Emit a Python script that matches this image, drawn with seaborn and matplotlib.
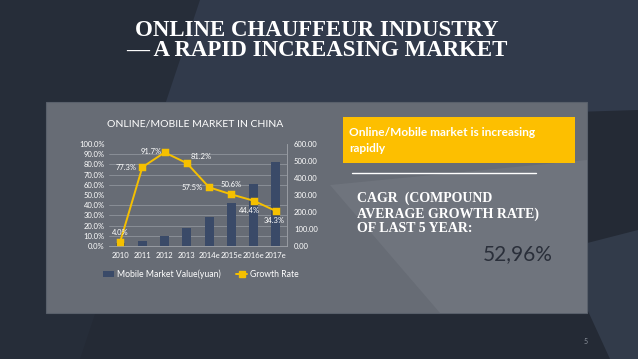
import matplotlib
matplotlib.use("Agg")
import matplotlib.pyplot as plt
import seaborn as sns
import numpy as np
from matplotlib.patches import Rectangle, Polygon, Patch
from matplotlib.lines import Line2D
from matplotlib.ticker import MultipleLocator, FuncFormatter

sns.set_theme(style="white")
plt.rcParams['font.family'] = ['Lato', 'DejaVu Sans']

# data
years = ['2010', '2011', '2012', '2013', '2014e', '2015e', '2016e', '2017e']
market_value = [17, 30, 58, 106, 168, 255, 365, 495]
growth_rate = [4.0, 77.3, 91.7, 81.2, 57.5, 50.6, 44.4, 34.3]
growth_labels = ['4.0%', '77.3%', '91.7%', '81.2%', '57.5%', '50.6%', '44.4%', '34.3%']
# label offsets in points (dx, dy) so the labels sit like the original
label_offsets = [(0, 7), (-12, 0), (-10, 1), (10, 5), (-12, 0), (0, 7), (-3, -7), (-1, -7)]

BAR_COLOR = '#3a4a68'
LINE_COLOR = '#f5c000'
W, H = 638, 359

def fx(px):
    return px / W

def fy(py):
    return 1 - py / H

fig = plt.figure(figsize=(6.38, 3.59), dpi=100)
fig.patch.set_facecolor('#242a35')

# slide background shapes
bg_shapes = [
    ([(0, 0), (638, 0), (638, 110), (0, 130)], '#313a4b'),
    ([(0, 0), (200, 0), (80, 359), (0, 359)], '#262d39'),
    ([(560, 250), (638, 230), (638, 359), (610, 359)], '#323b4a'),
]
for pts, col in bg_shapes:
    fig.patches.append(Polygon([(fx(x), fy(y)) for x, y in pts], closed=True,
                               transform=fig.transFigure, facecolor=col,
                               edgecolor='none', zorder=-5))

# grey panel
fig.patches.append(Rectangle((fx(46), fy(313)), fx(587) - fx(46), fy(102) - fy(313),
                             transform=fig.transFigure, facecolor='#676c75',
                             edgecolor='#59606b', lw=0.8, zorder=-3))
fig.patches.append(Polygon([(fx(x), fy(y)) for x, y in
                            [(330, 185), (587, 160), (587, 313), (440, 313)]],
                           closed=True, transform=fig.transFigure,
                           facecolor='#6f747d', edgecolor='none', zorder=-2))

# title
fig.text(0.497, fy(31), 'ONLINE CHAUFFEUR INDUSTRY', ha='center', va='center',
         color='white', fontsize=16.5, fontweight='bold', family='Liberation Serif')
fig.text(0.497, fy(51), '\u2014 A RAPID INCREASING MARKET', ha='center', va='center',
         color='white', fontsize=16.5, fontweight='bold', family='Liberation Serif')

# chart: bars on the right-hand axis, growth line on the left-hand axis
ax = fig.add_axes([fx(109), fy(246), fx(287) - fx(109), fy(144) - fy(246)])
ax.set_facecolor('none')
sns.barplot(x=years, y=market_value, color=BAR_COLOR, saturation=1, width=0.4,
            edgecolor='none', linewidth=0, ax=ax)
ax.set_xlabel('')
ax.set_ylabel('')

ax2 = ax.twinx()
sns.pointplot(x=years, y=growth_rate, ax=ax2, color=LINE_COLOR, markers='s',
              linestyles='-', linewidth=1.4, markersize=5)

ax.set_ylim(0, 600)
ax.yaxis.tick_right()
ax.yaxis.set_major_locator(MultipleLocator(100))
ax.yaxis.set_major_formatter(FuncFormatter(lambda v, p: f'{v:.2f}'))
ax.yaxis.set_minor_locator(MultipleLocator(60))
ax.grid(which='minor', axis='y', color='#8f949c', lw=0.6)
ax.set_axisbelow(True)
ax.tick_params(axis='y', which='both', length=0, labelsize=5.5, labelcolor='white', pad=5,
               labelleft=False, labelright=True)
ax.tick_params(axis='x', length=0, labelsize=5.5, labelcolor='white', pad=4)
for s in ['top', 'left']:
    ax.spines[s].set_visible(False)
ax.spines['bottom'].set_color('#a0a4aa')
ax.spines['right'].set_color('#a0a4aa')
ax.spines['bottom'].set_linewidth(0.6)
ax.spines['right'].set_linewidth(0.6)

ax2.set_ylim(0, 100)
ax2.yaxis.tick_left()
ax2.yaxis.set_major_locator(MultipleLocator(10))
ax2.yaxis.set_major_formatter(FuncFormatter(lambda v, p: f'{v:.1f}%'))
ax2.tick_params(axis='y', length=0, labelsize=5.5, labelcolor='white', pad=3,
                labelleft=True, labelright=False)
for s in ['top', 'left', 'right', 'bottom']:
    ax2.spines[s].set_visible(False)
ax2.set_xlabel('')
ax2.set_ylabel('')
ax2.tick_params(axis='x', length=0, labelbottom=False)

for i, (v, lab, off) in enumerate(zip(growth_rate, growth_labels, label_offsets)):
    ax2.annotate(lab, (i, v), xytext=off, textcoords='offset points',
                 ha='center', va='center', fontsize=5.5, color='white')

fig.text(fx(195), fy(124), 'ONLINE/MOBILE MARKET IN CHINA', ha='center', va='center',
         color='white', fontsize=7.5)

handles = [Patch(facecolor=BAR_COLOR, edgecolor='none'),
           Line2D([], [], color=LINE_COLOR, marker='s', markersize=4, lw=1.4)]
leg = fig.legend(handles, ['Mobile Market Value(yuan)', 'Growth Rate'],
                 loc='center', bbox_to_anchor=(fx(201), fy(274)), ncol=2, frameon=False,
                 fontsize=6.2, handlelength=1.3, handletextpad=0.3, columnspacing=1.8)
for t in leg.get_texts():
    t.set_color('white')

# right side
fig.patches.append(Rectangle((fx(343), fy(163)), fx(575) - fx(343), fy(117) - fy(163),
                             transform=fig.transFigure, facecolor='#fdbf00',
                             edgecolor='none', zorder=1))
fig.text(fx(349), fy(133), 'Online/Mobile market is increasing', ha='left', va='center',
         color='white', fontsize=8.6, fontweight='bold', zorder=2)
fig.text(fx(349), fy(149), 'rapidly', ha='left', va='center',
         color='white', fontsize=8.6, fontweight='bold', zorder=2)
fig.lines.append(Line2D([fx(352), fx(536)], [fy(173), fy(173)], transform=fig.transFigure,
                        color='white', lw=1))

for txt, y in [('CAGR  (COMPOUND', 198), ('AVERAGE GROWTH RATE)', 214), ('OF LAST 5 YEAR:', 229)]:
    fig.text(fx(357), fy(y), txt, ha='left', va='center', color='white',
             fontsize=10, fontweight='bold', family='Liberation Serif')

fig.text(fx(518), fy(254), '52,96%', ha='center', va='center', color='#2a2f3a', fontsize=15)
fig.text(fx(586), fy(342), '5', ha='center', va='center', color='#8a909a', fontsize=5)

fig.savefig('out.png', dpi=100, facecolor=fig.get_facecolor())
